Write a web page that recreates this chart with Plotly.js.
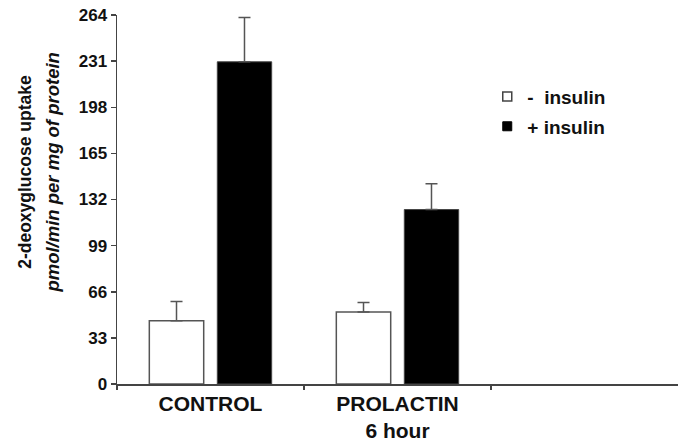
<!DOCTYPE html>
<html>
<head>
<meta charset="utf-8">
<script src="https://cdn.plot.ly/plotly-3.0.1.min.js"></script>
<style>html,body{margin:0;padding:0;background:#fff;}#chart{width:685px;height:445px;}</style>
</head>
<body>
<div id="chart"></div>
<script>
const categories = ["CONTROL", "PROLACTIN<br>6 hour"];
const minusInsulin = [45.2, 51.6];
const minusInsulinErr = [13.8, 6.7];
const plusInsulin = [230.5, 124.8];
const plusInsulinErr = [31.8, 18.5];
const yTicks = [0, 33, 66, 99, 132, 165, 198, 231, 264];
const seriesNames = ["-  insulin", "+ insulin"];

const FONT = "Liberation Sans, Arial, sans-serif";

const traces = [
  {
    type: "bar", x: categories, y: minusInsulin, showlegend: false,
    marker: {color: "#ffffff", line: {color: "#555555", width: 1.5}},
    error_y: {type: "data", symmetric: false, array: minusInsulinErr, arrayminus: minusInsulin.map(() => 0),
      color: "#555555", thickness: 1.5, width: 6}
  },
  {
    type: "bar", x: categories, y: plusInsulin, showlegend: false,
    marker: {color: "#000000", line: {color: "#444444", width: 1}},
    error_y: {type: "data", symmetric: false, array: plusInsulinErr, arrayminus: plusInsulin.map(() => 0),
      color: "#555555", thickness: 1.5, width: 6}
  },
  {
    type: "scatter", mode: "markers", x: [null], y: [null], name: seriesNames[0], legendgroup: "a",
    marker: {symbol: "square", size: 9, color: "#ffffff", line: {color: "#444444", width: 1.5}}
  },
  {
    type: "scatter", mode: "markers", x: [null], y: [null], name: seriesNames[1], legendgroup: "b",
    marker: {symbol: "square", size: 9, color: "#000000", line: {color: "#000000", width: 1}}
  }
];

const layout = {
  width: 685, height: 445,
  margin: {l: 117, r: 7, t: 15, b: 61},
  paper_bgcolor: "#ffffff", plot_bgcolor: "#ffffff",
  font: {family: FONT, color: "#111111"},
  barmode: "group", bargap: 0.273, bargroupgap: 0.2,
  showlegend: true,
  legend: {x: 0.66, y: 0.83, xanchor: "left", yanchor: "top", bgcolor: "rgba(0,0,0,0)",
    traceorder: "grouped", tracegroupgap: 2,
    font: {family: FONT, size: 19, color: "#111111", weight: "bold"}},
  xaxis: {
    type: "category", range: [-0.5, 2.5], tickson: "boundaries",
    showline: true, linecolor: "#444444", linewidth: 1.5,
    ticks: "outside", ticklen: 4, tickcolor: "#444444", tickwidth: 1.5,
    showgrid: false, zeroline: false, fixedrange: true,
    tickfont: {family: FONT, size: 21, color: "#111111", weight: "bold"}
  },
  yaxis: {
    range: [0, 264], tickvals: yTicks, ticktext: yTicks.map(String),
    showline: true, linecolor: "#444444", linewidth: 1.5,
    ticks: "outside", ticklen: 5, tickcolor: "#444444", tickwidth: 1.5,
    showgrid: false, zeroline: false, fixedrange: true,
    tickfont: {family: FONT, size: 17, color: "#111111", weight: "bold"}
  },
  annotations: [
    {xref: "paper", yref: "paper", x: -0.164, y: 0.575, xanchor: "center", yanchor: "middle",
     text: "<b>2-deoxyglucose uptake</b>", textangle: -90, showarrow: false,
     font: {family: FONT, size: 17.5, color: "#111111"}},
    {xref: "paper", yref: "paper", x: -0.114, y: 0.573, xanchor: "center", yanchor: "middle",
     text: "<b><i>pmol/min per mg of protein</i></b>", textangle: -90, showarrow: false,
     font: {family: FONT, size: 18.5, color: "#111111"}}
  ]
};

Plotly.newPlot("chart", traces, layout, {displayModeBar: false, staticPlot: true});
</script>
</body>
</html>
